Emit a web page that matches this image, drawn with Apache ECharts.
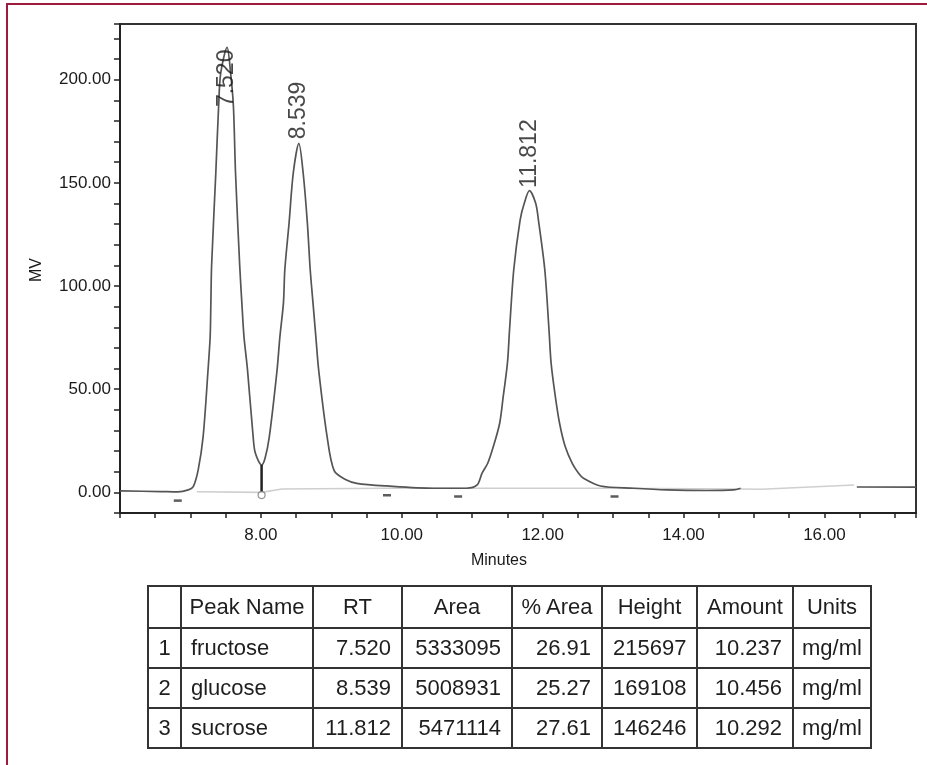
<!DOCTYPE html>
<html>
<head>
<meta charset="utf-8">
<script src="https://cdn.jsdelivr.net/npm/echarts@6/dist/echarts.min.js"></script>
<style>
  html, body { margin: 0; padding: 0; background: #fff; }
  #wrap { position: relative; width: 927px; height: 765px; overflow: hidden; }
  #frame { position: absolute; left: 6px; top: 3px; right: -4px; bottom: -4px;
           border-top: 2px solid #9e1a3f; border-left: 2px solid #9e1a3f; }
  #chart { position: absolute; left: 0; top: 0; width: 927px; height: 765px; }
  table { position: absolute; left: 147px; top: 585px; border-collapse: collapse;
          table-layout: fixed; width: 723px;
          font-family: 'Liberation Sans', Arial, sans-serif; font-size: 22px; color: #1e1e1e; }
  td, th { border: 2px solid #333; padding: 0 10px; font-weight: normal; white-space: nowrap; overflow: visible; }
  tr { height: 40px; }
  tr.head { height: 42px; }
  th { text-align: center; padding: 0 2px; }
  td.l { text-align: left; padding-left: 9px; }
  td.r { text-align: right; }
  td.c { text-align: center; padding: 0; }
</style>
</head>
<body>
<div id="wrap">
  <div id="frame"></div>
  <div id="chart"></div>
  <table id="tbl"></table>
</div>
<script>
// chromatogram trace (minutes, mV)
const traceMinutes = [6.00, 6.57, 6.82, 6.97, 7.04, 7.11, 7.18, 7.25, 7.28, 7.29, 7.30, 7.36, 7.40, 7.43, 7.52,
  7.57, 7.61, 7.64, 7.70, 7.73, 7.76, 7.81, 7.89, 7.92, 8.01, 8.06, 8.12, 8.23, 8.27, 8.32, 8.34, 8.40, 8.46, 8.539,
  8.60, 8.66, 8.70, 8.74, 8.78, 8.82, 8.94, 9.04, 9.20, 9.36, 9.79, 10.45, 10.92, 11.07, 11.14, 11.22, 11.30,
  11.39, 11.44, 11.50, 11.53, 11.59, 11.68, 11.74, 11.812, 11.90, 11.94, 12.03, 12.09, 12.12, 12.18,
  12.24, 12.32, 12.42, 12.51, 12.58, 12.82, 13.29, 13.77, 14.33, 14.71, 14.81, 15.5, 16.46, 17.30];
const traceMV = [0.7, 0.4, 0.2, 1.2, 2.8, 10.9, 27.0, 59.4, 75.5, 91.7, 109.5, 154.8, 187.1, 203.3, 215.7,
  203.3, 187.1, 154.8, 109.5, 91.7, 75.5, 59.4, 27.0, 19.2, 13.3, 16.7, 27.0, 59.4, 75.5, 91.7, 108.0, 130.5, 154.8, 169.1,
  154.8, 130.5, 108.0, 91.7, 75.5, 59.4, 27.0, 10.5, 6.2, 4.4, 3.1, 2.0, 2.0, 3.6, 9.3, 14.1, 22.2,
  33.5, 46.4, 62.6, 78.8, 108.0, 132.0, 140.2, 146.2, 140.2, 132.0, 108.0, 78.8, 62.6, 46.4,
  33.5, 22.2, 14.1, 9.3, 6.8, 3.1, 2.0, 1.2, 0.9, 1.2, 2.0, '-', 2.6, 2.5];

// integration baseline (light grey)
const baseMinutes = [7.09, 8.01, 8.30, 9.80, 13.00, 14.80, 15.10, 16.42];
const baseMV = [0.3, 0.0, 1.6, 2.0, 2.0, 1.6, 1.5, 3.6];

// integration marks
const markMinutes = [6.82, 9.79, 10.80, 13.02];
const markMV = [-4.0, -1.4, -2.0, -2.0];
const dropMinute = 8.01;
const dropTopMV = 13.3;
const dropCircleMV = -1.3;

// peak table
const peakNo = [1, 2, 3];
const peakName = ['fructose', 'glucose', 'sucrose'];
const peakRT = [7.520, 8.539, 11.812];
const peakArea = [5333095, 5008931, 5471114];
const peakPctArea = [26.91, 25.27, 27.61];
const peakHeight = [215697, 169108, 146246];
const peakAmount = [10.237, 10.456, 10.292];
const peakUnits = ['mg/ml', 'mg/ml', 'mg/ml'];
const tableHeader = ['', 'Peak Name', 'RT', 'Area', '% Area', 'Height', 'Amount', 'Units'];
const colWidths = [33, 132, 89, 110, 90, 95, 96, 78];

const yTicks = [0, 50, 100, 150, 200];
const xTicks = [8, 10, 12, 14, 16];

// label shift on screen in px (+ = down); first label sits under the frame top
const labelShift = [31, -33, -37];

const font = "'Liberation Sans', Arial, sans-serif";

const chart = echarts.init(document.getElementById('chart'));

const option = {
  animation: false,
  grid: { left: 120, top: 24, right: 11, bottom: 252, show: true, borderColor: '#333', borderWidth: 2 },
  xAxis: {
    type: 'value', min: 6, max: 17.3, interval: 0.5,
    axisLine: { onZero: false, lineStyle: { color: '#222', width: 2 } },
    axisTick: { length: 5, lineStyle: { color: '#222', width: 1.5 } },
    axisLabel: {
      margin: 14, color: '#1a1a1a', fontSize: 17, fontFamily: font,
      formatter: v => xTicks.includes(v) ? v.toFixed(2) : ''
    },
    splitLine: { show: false }
  },
  yAxis: {
    type: 'value', min: -10, max: 227, interval: 10,
    axisLine: { onZero: false, lineStyle: { color: '#222', width: 2 } },
    axisTick: { length: 6, lineStyle: { color: '#222', width: 1.5 } },
    axisLabel: {
      margin: 9, color: '#1a1a1a', fontSize: 17, fontFamily: font,
      formatter: v => yTicks.includes(v) ? v.toFixed(2) : ''
    },
    splitLine: { show: false }
  },
  graphic: [
    { type: 'text', x: 499, y: 561, style: { text: 'Minutes', align: 'center', verticalAlign: 'middle', fill: '#1a1a1a', font: '16px ' + font } },
    { type: 'text', x: 37, y: 270, rotation: Math.PI / 2, style: { text: 'MV', align: 'center', verticalAlign: 'middle', fill: '#1a1a1a', font: '16px ' + font } }
  ],
  series: [
    {
      type: 'line', z: 2, silent: true, showSymbol: false,
      data: baseMinutes.map((m, i) => [m, baseMV[i]]),
      lineStyle: { color: '#cfcfcf', width: 1.6 }
    },
    {
      type: 'line', z: 3, silent: true, showSymbol: false, smooth: 0.3, connectNulls: false,
      data: traceMinutes.map((m, i) => [m, traceMV[i]]),
      lineStyle: { color: '#555', width: 1.7 }
    },
    {
      type: 'line', z: 4, silent: true, showSymbol: false,
      data: [[dropMinute, 0], [dropMinute, dropTopMV]],
      lineStyle: { color: '#222', width: 2.5 }
    },
    {
      type: 'scatter', z: 5, silent: true, symbol: 'circle', symbolSize: 7,
      data: [[dropMinute, dropCircleMV]],
      itemStyle: { color: '#fff', borderColor: '#777', borderWidth: 1.2 }
    },
    {
      type: 'scatter', z: 5, silent: true, symbol: 'rect', symbolSize: [8, 2.5],
      data: markMinutes.map((m, i) => [m, markMV[i]]),
      itemStyle: { color: '#333' }
    },
    {
      type: 'scatter', z: 6, silent: true, symbolSize: 0,
      data: peakRT.map((rt, i) => ({
        value: [rt, peakHeight[i] / 1000],
        // offset is applied in the rotated label frame
        label: { offset: [-labelShift[i], 0] }
      })),
      label: {
        show: true, position: 'inside', rotate: 90,
        formatter: p => p.value[0].toFixed(3),
        color: '#1a1a1a', fontSize: 23, fontFamily: font
      }
    }
  ]
};

chart.setOption(option);

// table
const tbl = document.getElementById('tbl');
let html = '<colgroup>' + colWidths.map(w => `<col style="width:${w}px">`).join('') + '</colgroup>';
html += '<tr class="head">' + tableHeader.map(h => `<th>${h}</th>`).join('') + '</tr>';
peakNo.forEach((n, i) => {
  html += '<tr>' +
    `<td class="c">${n}</td>` +
    `<td class="l">${peakName[i]}</td>` +
    `<td class="r">${peakRT[i].toFixed(3)}</td>` +
    `<td class="r">${peakArea[i]}</td>` +
    `<td class="r">${peakPctArea[i].toFixed(2)}</td>` +
    `<td class="r">${peakHeight[i]}</td>` +
    `<td class="r">${peakAmount[i].toFixed(3)}</td>` +
    `<td class="l" style="padding-left:8px">${peakUnits[i]}</td>` +
    '</tr>';
});
tbl.innerHTML = html;
</script>
</body>
</html>
